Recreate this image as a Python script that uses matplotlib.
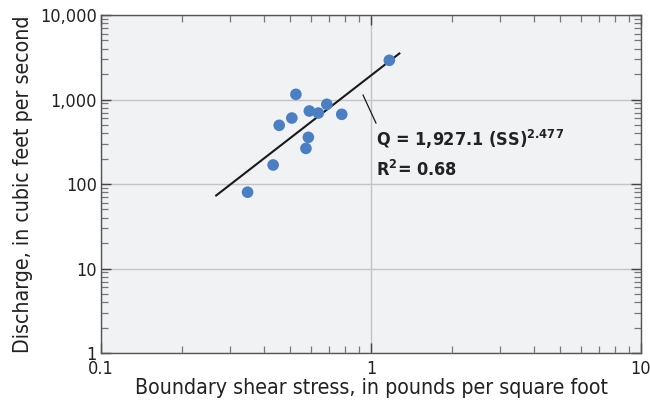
import numpy as np
import matplotlib.pyplot as plt
from matplotlib.ticker import LogLocator, FixedLocator, FixedFormatter, NullFormatter

plt.rcParams['font.family'] = ['DejaVu Sans']
plt.rcParams['font.stretch'] = 'condensed'

# Boundary shear stress (lb/ft^2) and discharge (ft^3/s)
shear = [0.349, 0.434, 0.574, 0.586, 0.457, 0.509, 0.527, 0.591, 0.638, 0.686, 0.779, 1.169]
discharge = [80, 168, 264, 357, 495, 604, 1152, 731, 692, 878, 668, 2911]

# power-law fit Q = a * SS^b
coef_a = 1927.1
coef_b = 2.477
r_squared = 0.68
fit_range = [0.267, 1.273]

x_ticks = [0.1, 1, 10]
x_labels = ['0.1', '1', '10']
y_ticks = [1, 10, 100, 1000, 10000]
y_labels = ['1', '10', '100', '1,000', '10,000']

fig = plt.figure(figsize=(6.5, 4.16), dpi=100)
ax = fig.add_axes([0.1554, 0.1514, 0.8308, 0.8125])
ax.set_facecolor('#f1f2f4')

ax.set_xscale('log')
ax.set_yscale('log')
ax.set_xlim(0.1, 10)
ax.set_ylim(1, 10000)

ax.grid(True, which='major', color='#c4c4c4', lw=1.0)
ax.set_axisbelow(True)

ax.xaxis.set_major_locator(FixedLocator(x_ticks))
ax.xaxis.set_major_formatter(FixedFormatter(x_labels))
ax.yaxis.set_major_locator(FixedLocator(y_ticks))
ax.yaxis.set_major_formatter(FixedFormatter(y_labels))
ax.xaxis.set_minor_locator(LogLocator(base=10, subs=np.arange(2, 10), numticks=20))
ax.yaxis.set_minor_locator(LogLocator(base=10, subs=np.arange(2, 10), numticks=20))
ax.xaxis.set_minor_formatter(NullFormatter())
ax.yaxis.set_minor_formatter(NullFormatter())

ax.tick_params(which='both', direction='in', top=True, right=True, color='#444444')
ax.tick_params(which='major', length=7, width=1.0, labelsize=13, pad=3, labelcolor='#222222')
ax.tick_params(axis='x', which='major', pad=5)
ax.tick_params(which='minor', length=5, width=0.9, color='#777777')
for sp in ax.spines.values():
    sp.set_color('#555555')
    sp.set_linewidth(1.0)

# fitted curve
xf = np.logspace(np.log10(fit_range[0]), np.log10(fit_range[1]), 50)
ax.plot(xf, coef_a * xf ** coef_b, color='#1a1a1a', lw=1.5, zorder=3)

ax.scatter(shear, discharge, s=70, color='#4a80c3', edgecolors='none', zorder=4)

# equation label with leader
ax.plot([0.934, 1.043], [1130, 527], color='#1a1a1a', lw=0.9)
ax.text(1.04, 282, 'Q = 1,927.1 (SS)$^{\\mathregular{%.3f}}$' % coef_b, fontsize=13,
        fontweight='bold', color='#222222', va='baseline', ha='left')
ax.text(1.04, 125, 'R$^{\\mathregular{2}}$= %.2f' % r_squared, fontsize=13,
        fontweight='bold', color='#222222', va='baseline', ha='left')

ax.set_xlabel('Boundary shear stress, in pounds per square foot', fontsize=15.3,
              color='#222222', labelpad=0)
ax.set_ylabel('Discharge, in cubic feet per second', fontsize=15.3,
              color='#222222', labelpad=5)

fig.savefig('out.png', dpi=100)
